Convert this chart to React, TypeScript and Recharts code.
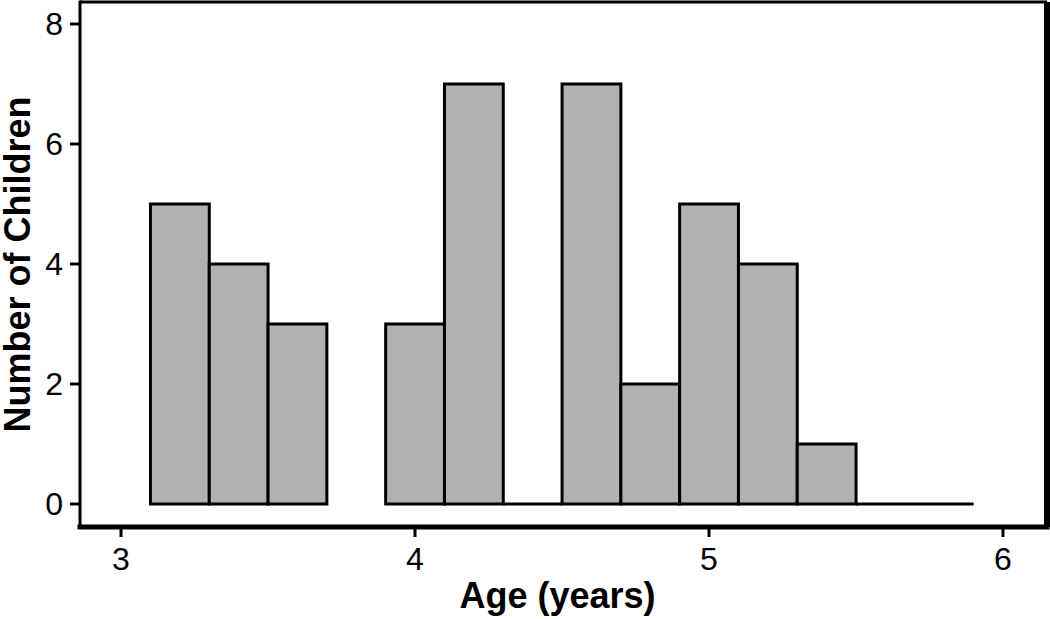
import React from 'react';
import { BarChart, Bar, XAxis, YAxis, ReferenceLine } from 'recharts';

// histogram bins (width 0.2 years), null = empty bin with no baseline drawn
const binStarts = [3.1, 3.3, 3.5, 3.7, 3.9, 4.1, 4.3, 4.5, 4.7, 4.9, 5.1, 5.3, 5.5, 5.7];
const counts = [5, 4, 3, null, 3, 7, 0, 7, 2, 5, 4, 1, 0, 0];
const binWidth = 0.2;

const xTicks = [3, 4, 5, 6];
const yTicks = [0, 2, 4, 6, 8];

const xDomain = [2.8605, 6.1497];
const yDomain = [-0.3833, 8.3667];

const data = binStarts.map((start, i) => ({
  mid: +(start + binWidth / 2).toFixed(2),
  count: counts[i],
}));

const W = 1050;
const H = 619;
const margin = { top: 2, right: 3, bottom: 0, left: 0 };
const yAxisWidth = 80;
const xAxisHeight = 92;
const plotWidth = W - margin.left - margin.right - yAxisWidth;
// pixel width of one bin on the x scale
const binPx = (binWidth * plotWidth) / (xDomain[1] - xDomain[0]);

const tickStyle = { fill: '#000', fontSize: 32 };

const HistBar = (props: any) => {
  const { x, y, width, height, payload } = props;
  if (payload == null || payload.count == null) return <g />;
  const h = Math.max(0, height || 0);
  const cx = x + width / 2;
  const l = cx - binPx / 2;
  const r = cx + binPx / 2;
  const d = `M${l},${y + h} L${l},${y} L${r},${y} L${r},${y + h} Z`;
  return <path d={d} fill="#b1b1b1" stroke="#000" strokeWidth={3} strokeLinejoin="miter" />;
};

export default function App() {
  return (
    <div
      style={{
        position: 'absolute',
        left: 0,
        top: 0,
        width: W,
        height: H,
        background: '#fff',
        fontFamily: '"Liberation Sans", Arial, Helvetica, sans-serif',
      }}
    >
      <BarChart width={W} height={H} data={data} margin={margin} barCategoryGap={0} barGap={0}>
        <XAxis
          type="number"
          dataKey="mid"
          domain={xDomain}
          ticks={xTicks}
          allowDataOverflow
          interval={0}
          height={xAxisHeight}
          axisLine={{ stroke: '#000', strokeWidth: 5, strokeLinecap: 'square' }}
          tickLine={{ stroke: '#000', strokeWidth: 3 }}
          tickSize={10}
          tickMargin={10}
          tick={tickStyle}
          label={{
            value: 'Age (years)',
            position: 'insideBottom',
            offset: 11,
            dx: -6,
            style: { fontWeight: 'bold', fontSize: 36, fill: '#000' },
          }}
        />
        <YAxis
          type="number"
          domain={yDomain}
          ticks={yTicks}
          allowDataOverflow
          interval={0}
          width={yAxisWidth}
          axisLine={{ stroke: '#000', strokeWidth: 3, strokeLinecap: 'square' }}
          tickLine={{ stroke: '#000', strokeWidth: 3 }}
          tickSize={10}
          tickMargin={7}
          tick={tickStyle}
          label={{
            value: 'Number of Children',
            angle: -90,
            position: 'insideLeft',
            offset: 17,
            style: { textAnchor: 'middle', fontWeight: 'bold', fontSize: 36, fill: '#000' },
          }}
        />
        <ReferenceLine y={yDomain[1]} stroke="#000" strokeWidth={3} />
        <ReferenceLine x={xDomain[1]} stroke="#000" strokeWidth={6} />
        <Bar dataKey="count" barSize={binPx} shape={HistBar} isAnimationActive={false} />
      </BarChart>
    </div>
  );
}
